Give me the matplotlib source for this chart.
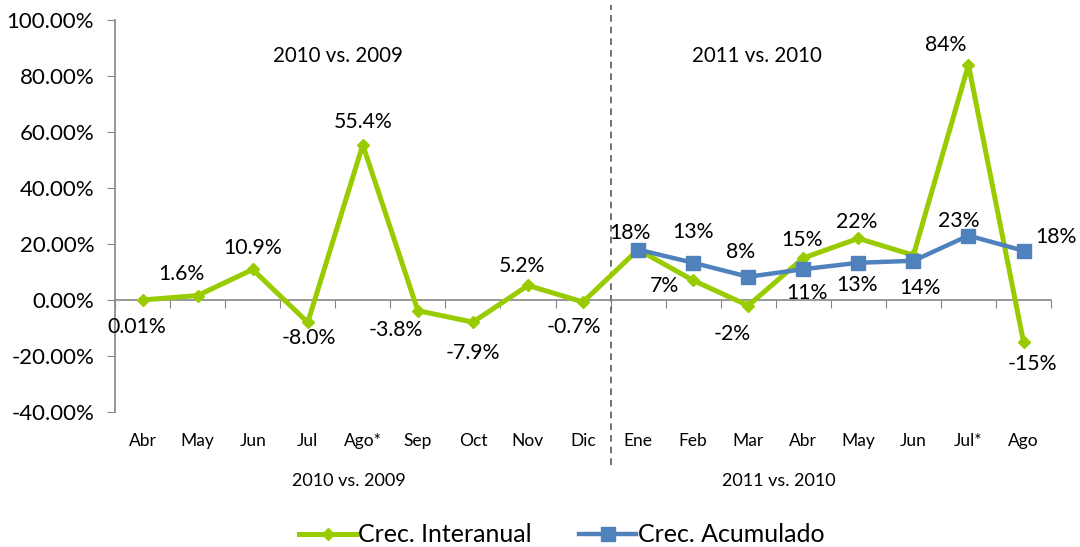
import matplotlib
matplotlib.use("Agg")
import matplotlib.pyplot as plt
import matplotlib.transforms as mtransforms
from matplotlib.ticker import FuncFormatter


months = ["Abr", "May", "Jun", "Jul", "Ago*", "Sep", "Oct", "Nov", "Dic",
          "Ene", "Feb", "Mar", "Abr", "May", "Jun", "Jul*", "Ago"]
periods = ["2010 vs. 2009", "2011 vs. 2010"]

interanual = [0.01, 1.6, 10.9, -8.0, 55.4, -3.8, -7.9, 5.2, -0.7,
              18, 7, -2, 15, 22, 16, 84, -15]
interanual_labels = ["0.01%", "1.6%", "10.9%", "-8.0%", "55.4%", "-3.8%", "-7.9%", "5.2%", "-0.7%",
                     "18%", "7%", "-2%", "15%", "22%", "", "84%", "-15%"]

acumulado = [18, 13.3, 8.3, 11, 13.3, 14, 23, 17.6]
acumulado_labels = ["", "13%", "8%", "11%", "13%", "14%", "23%", "18%"]

GREEN = "#99CC00"
BLUE = "#4F81BD"
GRAY = "#868686"
FONT = "Lato"

# label offsets in pixels (dx, dy)
green_off = [(-6, -27), (-16, 22), (0, 21), (1, -16), (0, 23), (-22, -19), (0, -31), (-6, 19), (-9, -25),
             (-8, 17), (-29, -6), (-16, -28), (-1, 18), (-2, 16), (0, 0), (-23, 20), (9, -22)]
blue_off = [(0, 0), (0, 31), (-8, 25), (4, -24), (-1, -22), (7, -27), (-10, 15), (32, 14)]

plt.rcParams["font.family"] = [FONT, "DejaVu Sans"]

fig = plt.figure(figsize=(10.8, 5.47), dpi=100)
ax = fig.add_axes([0.1065, 0.2468, 0.8667, 0.7166])

x_all = list(range(len(months)))
x_2011 = x_all[9:]

ax.plot(x_all, interanual, color=GREEN, lw=3.6, marker="D", ms=6.5,
        label="Crec. Interanual", zorder=3)
ax.plot(x_2011, acumulado, color=BLUE, lw=3.2, marker="s", ms=9.5,
        label="Crec. Acumulado", zorder=4)

for xi, v, t, (dx, dy) in zip(x_all, interanual, interanual_labels, green_off):
    if t:
        ax.annotate(t, (xi, v), xytext=(dx, dy), textcoords="offset pixels",
                    ha="center", va="center", fontsize=15.3, color="black", zorder=5)
for xi, v, t, (dx, dy) in zip(x_2011, acumulado, acumulado_labels, blue_off):
    if t:
        ax.annotate(t, (xi, v), xytext=(dx, dy), textcoords="offset pixels",
                    ha="center", va="center", fontsize=15.3, color="black", zorder=5)

ax.set_xlim(-0.5, len(months) - 0.5)
ax.set_ylim(-40, 100)
ax.set_yticks(range(-40, 101, 20))
ax.yaxis.set_major_formatter(FuncFormatter(lambda v, p: f"{v:.2f}%"))
ax.tick_params(axis="y", direction="out", length=6, color=GRAY, labelsize=16, pad=9)

for s in ["top", "right"]:
    ax.spines[s].set_visible(False)
ax.spines["left"].set_color(GRAY)
ax.spines["left"].set_linewidth(1.2)
ax.spines["bottom"].set_position(("data", 0))
ax.spines["bottom"].set_color(GRAY)
ax.spines["bottom"].set_linewidth(1.2)
ax.set_xticks([i + 0.5 for i in range(-1, len(months))])
ax.set_xticklabels([])
ax.tick_params(axis="x", direction="out", length=6, color=GRAY)

trans = mtransforms.blended_transform_factory(ax.transData, ax.transAxes)
for xi, m in zip(x_all, months):
    ax.text(xi, -0.075, m, transform=trans, ha="center", va="center", fontsize=12.5)

ax.text(3.75, -0.175, periods[0], transform=trans, ha="center", va="center", fontsize=13)
ax.text(11.55, -0.175, periods[1], transform=trans, ha="center", va="center", fontsize=13)

ax.text(3.55, 0.907, periods[0], transform=trans, ha="center", va="center", fontsize=14.8)
ax.text(11.15, 0.907, periods[1], transform=trans, ha="center", va="center", fontsize=14.8)

ax.plot([8.5, 8.5], [-0.135, 1.038], transform=trans, color="#595959", lw=1.2,
        ls=(0, (4, 3)), clip_on=False, zorder=2)

fig.legend(loc="center", bbox_to_anchor=(0.52, 0.022), ncol=2, frameon=False,
           fontsize=18, handlelength=2.3, handletextpad=0.05, columnspacing=1.9)

fig.savefig("out.png", dpi=100)
